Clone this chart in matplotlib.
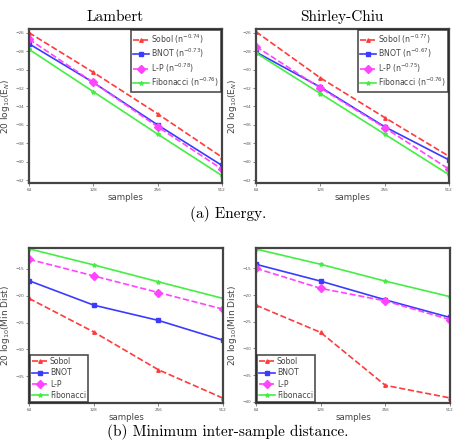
import numpy as np
import matplotlib
matplotlib.use("Agg")
import matplotlib.pyplot as plt

samples = [64, 128, 256, 512]
methods = ["Sobol", "BNOT", "L-P", "Fibonacci"]

# energy, 20 log10(E_N)
energy_lambert = {
    "Sobol": [-26.0, -30.3, -34.8, -39.5],
    "BNOT": [-27.2, -31.4, -36.0, -40.4],
    "L-P": [-26.7, -31.4, -36.2, -40.8],
    "Fibonacci": [-27.8, -32.4, -37.0, -41.5],
}
energy_shirley = {
    "Sobol": [-25.9, -30.9, -35.2, -39.4],
    "BNOT": [-28.1, -31.9, -36.2, -39.8],
    "L-P": [-27.5, -32.0, -36.3, -40.8],
    "Fibonacci": [-28.2, -32.6, -37.0, -41.4],
}
rate_lambert = ["-0.74", "-0.73", "-0.78", "-0.76"]
rate_shirley = ["-0.77", "-0.67", "-0.75", "-0.76"]

# minimum distance, 20 log10(Min Dist)
mindist_lambert = {
    "Sobol": [-20.5, -26.75, -33.8, -39.1],
    "BNOT": [-17.2, -21.75, -24.6, -28.3],
    "L-P": [-13.2, -16.3, -19.4, -22.5],
    "Fibonacci": [-11.25, -14.25, -17.4, -20.5],
}
mindist_shirley = {
    "Sobol": [-21.9, -27.0, -36.9, -39.25],
    "BNOT": [-14.25, -17.4, -20.9, -24.2],
    "L-P": [-15.0, -18.75, -21.1, -24.6],
    "Fibonacci": [-11.4, -14.25, -17.4, -20.3],
}

styles = {
    "Sobol": dict(color="#ff3b3b", ls="--", marker="^", ms=2.5),
    "BNOT": dict(color="#3b3bff", ls="-", marker="s", ms=2.5),
    "L-P": dict(color="#ff44ff", ls="--", marker="D", ms=4),
    "Fibonacci": dict(color="#44ee44", ls="-", marker="*", ms=3),
}

W, H = 456, 442
fig = plt.figure(figsize=(W / 100, H / 100), dpi=100)


def make_ax(x0, y0, x1, y1):
    return fig.add_axes([x0 / W, 1 - y1 / H, (x1 - x0) / W, (y1 - y0) / H])


def draw(ax, data, rates, ylim, yticks, ylabel, legend_loc):
    for i, m in enumerate(methods):
        lab = m if rates is None else m + " (n$^{" + rates[i] + "}$)"
        ax.plot(samples, data[m], lw=1.2, label=lab, **styles[m])
    ax.set_xscale("log", base=2)
    ax.set_xlim(64, 512)
    ax.set_xticks(samples)
    ax.set_xticklabels([str(s) for s in samples])
    ax.minorticks_off()
    ax.set_ylim(*ylim)
    ax.set_yticks(yticks)
    ax.tick_params(labelsize=3, length=2, width=0.5, colors="#555555", pad=1.5)
    for sp in ax.spines.values():
        sp.set_linewidth(1.6)
        sp.set_color("#444444")
    ax.set_xlabel("samples", fontsize=6.2, color="#444444")
    ax.set_ylabel(ylabel, fontsize=6.5, color="#444444")
    ax.xaxis.set_label_coords(0.5, -0.065)
    ax.yaxis.set_label_coords(-0.088, 0.5)
    spacing = 0.3 if rates is None else 0.15
    leg = ax.legend(loc=legend_loc, fontsize=5.6, handlelength=2.0,
                    borderpad=0.3, labelspacing=spacing, handletextpad=0.3,
                    fancybox=False, borderaxespad=0.1)
    leg.get_frame().set_edgecolor("#222222")
    leg.get_frame().set_linewidth(1.2)
    for t in leg.get_texts():
        t.set_color("#444444")


serif = ["cmr10", "DejaVu Serif"]

ax1 = make_ax(29, 29, 222, 183)
draw(ax1, energy_lambert, rate_lambert, (-42.3, -25.6), np.arange(-42, -25, 2),
     "20 log$_{10}$(E$_N$)", "upper right")

ax2 = make_ax(256, 29, 449, 183)
draw(ax2, energy_shirley, rate_shirley, (-42.3, -25.6), np.arange(-42, -25, 2),
     "20 log$_{10}$(E$_N$)", "upper right")

ax3 = make_ax(29, 248, 223, 403)
draw(ax3, mindist_lambert, None, (-40.0, -11.1), np.arange(-35, -14, 5),
     "20 log$_{10}$(Min Dist)", "lower left")

ax4 = make_ax(256, 248, 450, 403)
draw(ax4, mindist_shirley, None, (-40.2, -11.2), np.arange(-40, -14, 5),
     "20 log$_{10}$(Min Dist)", "lower left")

fig.text(115 / W, 1 - 17 / H, "Lambert", ha="center", va="center",
         fontsize=11, family=serif)
fig.text(342 / W, 1 - 17 / H, "Shirley-Chiu", ha="center", va="center",
         fontsize=11, family=serif)
fig.text(0.5, 1 - 214 / H, "(a) Energy.", ha="center", va="center",
         fontsize=11, family=serif)
fig.text(0.5, 1 - 432 / H, "(b) Minimum inter-sample distance.", ha="center",
         va="center", fontsize=11, family=serif)

fig.savefig("out.png", dpi=100)
